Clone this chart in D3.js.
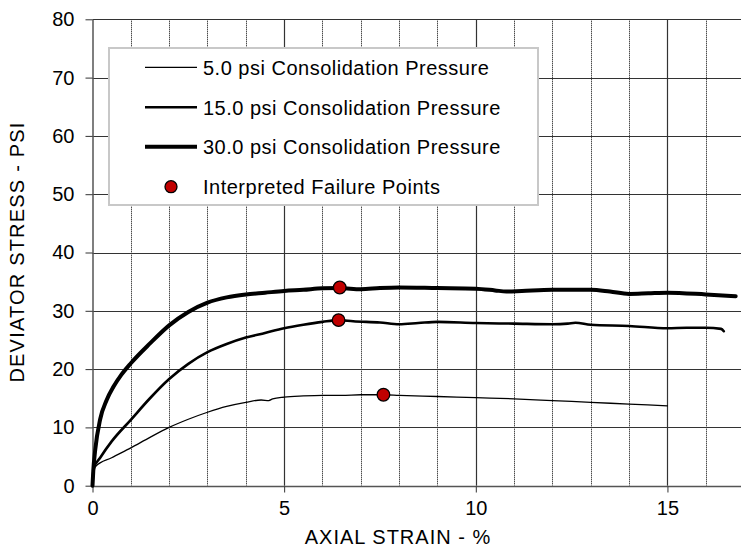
<!DOCTYPE html>
<html>
<head>
<meta charset="utf-8">
<script src="https://cdnjs.cloudflare.com/ajax/libs/d3/7.8.5/d3.min.js"></script>
<style>
  body { margin: 0; background: #fff; }
  svg { display: block; font-family: Arial, "Liberation Sans", sans-serif; }
</style>
</head>
<body>
<div id="grafica"></div>
<script>
// datos (deformacion axial % / esfuerzo desviador psi)
var strain5 = [0, 0.03, 0.08, 0.5, 1.0, 1.5, 2.0, 2.5, 3.0, 3.5, 4.0, 4.4, 4.6, 4.7, 5.0, 5.5, 6.0, 6.5, 7.0, 7.59, 8.0, 9.0, 10.0, 11.0, 12.0, 13.0, 14.0, 15.0];
var stress5 = [0, 2.0, 3.3, 4.8, 6.5, 8.3, 10.0, 11.4, 12.6, 13.6, 14.3, 14.7, 14.6, 14.9, 15.2, 15.4, 15.5, 15.5, 15.6, 15.6, 15.5, 15.3, 15.1, 14.9, 14.6, 14.3, 14.0, 13.7];

var strain15 = [0, 0.03, 0.2, 0.5, 1.0, 1.5, 2.0, 2.5, 3.0, 3.5, 4.0, 4.5, 5.0, 5.5, 6.0, 6.42, 6.8, 7.5, 8.0, 8.5, 9.0, 10.0, 11.0, 12.0, 12.4, 12.6, 13.0, 14.0, 15.0, 15.5, 16.0, 16.4, 16.47];
var stress15 = [0, 3.0, 4.8, 7.6, 11.3, 15.0, 18.3, 20.9, 22.9, 24.3, 25.4, 26.2, 27.0, 27.6, 28.1, 28.4, 28.2, 28.0, 27.7, 27.9, 28.1, 27.9, 27.8, 27.7, 27.8, 27.95, 27.6, 27.4, 27.0, 27.1, 27.1, 26.9, 26.5];

var strain30 = [0, 0.02, 0.07, 0.2, 0.37, 0.55, 0.75, 1.0, 1.5, 2.0, 2.5, 3.0, 3.5, 4.0, 4.5, 5.0, 5.5, 6.0, 6.45, 7.0, 7.5, 8.0, 9.0, 10.0, 10.5, 10.8, 11.2, 12.0, 13.0, 13.5, 14.0, 14.5, 15.0, 16.0, 16.78];
var stress30 = [0, 2.5, 6.1, 11.4, 14.7, 17.0, 19.0, 21.0, 24.4, 27.5, 29.8, 31.4, 32.3, 32.8, 33.1, 33.4, 33.6, 33.85, 33.9, 33.7, 33.9, 34.0, 33.9, 33.8, 33.5, 33.3, 33.4, 33.6, 33.6, 33.3, 32.9, 33.0, 33.1, 32.8, 32.5];

var failStrain = [7.59, 6.42, 6.45];
var failStress = [15.6, 28.4, 34.0];

var legendLabels = ["5.0 psi Consolidation Pressure", "15.0 psi Consolidation Pressure", "30.0 psi Consolidation Pressure", "Interpreted Failure Points"];
var xTicks = [0, 5, 10, 15];
var yTicks = [0, 10, 20, 30, 40, 50, 60, 70, 80];

var w = 741;
var h = 548;

var x = d3.scaleLinear().domain([0, 17]).range([92.5, 92.5 + 17 * 38.33]);
var y = d3.scaleLinear().domain([0, 80]).range([485.7, 19.3]);

var svg = d3.select('#grafica')
	.append('svg')
	.attr("width", w)
	.attr("height", h);

// rejilla vertical menor (punteada)
var minor = d3.range(1, 18).filter(function (d) { return d % 5 != 0; });
svg.selectAll(".vmin")
	.data(minor)
	.enter()
	.append("line")
	.attr("x1", function (d) { return Math.round(x(d)) + 0.5; })
	.attr("x2", function (d) { return Math.round(x(d)) + 0.5; })
	.attr("y1", y(80))
	.attr("y2", y(0))
	.attr("stroke", "#000")
	.attr("stroke-width", 1)
	.attr("stroke-dasharray", "1,1");

// rejilla horizontal
svg.selectAll(".hgrid")
	.data(yTicks.slice(1))
	.enter()
	.append("line")
	.attr("x1", x(0))
	.attr("x2", w)
	.attr("y1", function (d) { return Math.round(y(d)) + 0.5; })
	.attr("y2", function (d) { return Math.round(y(d)) + 0.5; })
	.attr("stroke", "#333")
	.attr("stroke-width", 1);

// rejilla vertical mayor
svg.selectAll(".vmaj")
	.data([5, 10, 15])
	.enter()
	.append("line")
	.attr("x1", function (d) { return Math.round(x(d)) + 0.5; })
	.attr("x2", function (d) { return Math.round(x(d)) + 0.5; })
	.attr("y1", y(80))
	.attr("y2", y(0))
	.attr("stroke", "#333")
	.attr("stroke-width", 1.2);

// ejes
var xAxis = d3.axisBottom(x).tickValues(xTicks).tickSize(6).tickSizeOuter(0);
var yAxis = d3.axisLeft(y).tickValues(yTicks).tickSize(7).tickSizeOuter(0);

var gx = svg.append("g")
	.attr("transform", "translate(0," + (Math.round(y(0)) + 0.5) + ")")
	.call(xAxis);
gx.select(".domain").attr("stroke", "#555").attr("stroke-width", 1.5).attr("d", "M" + x(0) + ",0H" + w);
gx.selectAll(".tick line").attr("stroke", "#333");
gx.selectAll(".tick text")
	.attr("y", 14)
	.attr("fill", "#000")
	.style("font-size", "20px")
	.style("font-family", "Arial, 'Liberation Sans', sans-serif");

var gy = svg.append("g")
	.attr("transform", "translate(" + (Math.round(x(0)) - 0.5) + ",0)")
	.call(yAxis);
gy.select(".domain").attr("stroke", "#555").attr("stroke-width", 1.5);
gy.selectAll(".tick line").attr("stroke", "#333");
gy.selectAll(".tick text")
	.attr("x", -18)
	.attr("fill", "#000")
	.style("font-size", "20px")
	.style("font-family", "Arial, 'Liberation Sans', sans-serif");

// curvas
var series = [
	{ sx: strain5, sy: stress5, ancho: 1.3 },
	{ sx: strain15, sy: stress15, ancho: 2.6 },
	{ sx: strain30, sy: stress30, ancho: 4 }
];

var linea = d3.line()
	.x(function (d) { return x(d[0]); })
	.y(function (d) { return y(d[1]); })
	.curve(d3.curveMonotoneX);

svg.selectAll(".curva")
	.data(series)
	.enter()
	.append("path")
	.attr("d", function (s) { return linea(d3.zip(s.sx, s.sy)); })
	.attr("fill", "none")
	.attr("stroke", "#000")
	.attr("stroke-width", function (s) { return s.ancho; })
	.attr("stroke-linejoin", "round")
	.attr("stroke-linecap", "round");

// puntos de falla
svg.selectAll(".falla")
	.data(d3.zip(failStrain, failStress))
	.enter()
	.append("circle")
	.attr("cx", function (d) { return x(d[0]); })
	.attr("cy", function (d) { return y(d[1]); })
	.attr("r", 6.3)
	.attr("fill", "#c00000")
	.attr("stroke", "#000")
	.attr("stroke-width", 1.3);

// leyenda
var ley = svg.append("g");
ley.append("rect")
	.attr("x", 109)
	.attr("y", 48)
	.attr("width", 429)
	.attr("height", 157)
	.attr("fill", "#fff")
	.attr("stroke", "#c8c8c8")
	.attr("stroke-width", 2);

var filaY = [67.3, 107.3, 146.7, 186.7];
var anchos = [1.3, 2.6, 4];

ley.selectAll(".lin")
	.data(anchos)
	.enter()
	.append("line")
	.attr("x1", 145)
	.attr("x2", 197)
	.attr("y1", function (d, i) { return filaY[i]; })
	.attr("y2", function (d, i) { return filaY[i]; })
	.attr("stroke", "#000")
	.attr("stroke-width", function (d) { return d; });

ley.append("circle")
	.attr("cx", 171)
	.attr("cy", filaY[3])
	.attr("r", 6)
	.attr("fill", "#c00000")
	.attr("stroke", "#000")
	.attr("stroke-width", 1.3);

ley.selectAll(".txt")
	.data(legendLabels)
	.enter()
	.append("text")
	.text(function (d) { return d; })
	.attr("x", 203)
	.attr("y", function (d, i) { return filaY[i] + 7.5; })
	.style("font-size", "20px")
	.style("letter-spacing", "0.5px");

// titulos de ejes
svg.append("text")
	.text("AXIAL STRAIN - %")
	.attr("x", 398)
	.attr("y", 544)
	.attr("text-anchor", "middle")
	.style("font-size", "20px")
	.style("letter-spacing", "1px");

svg.append("text")
	.text("DEVIATOR STRESS - PSI")
	.attr("transform", "translate(24,252) rotate(-90)")
	.attr("text-anchor", "middle")
	.style("font-size", "20px")
	.style("letter-spacing", "1.2px");
</script>
</body>
</html>
